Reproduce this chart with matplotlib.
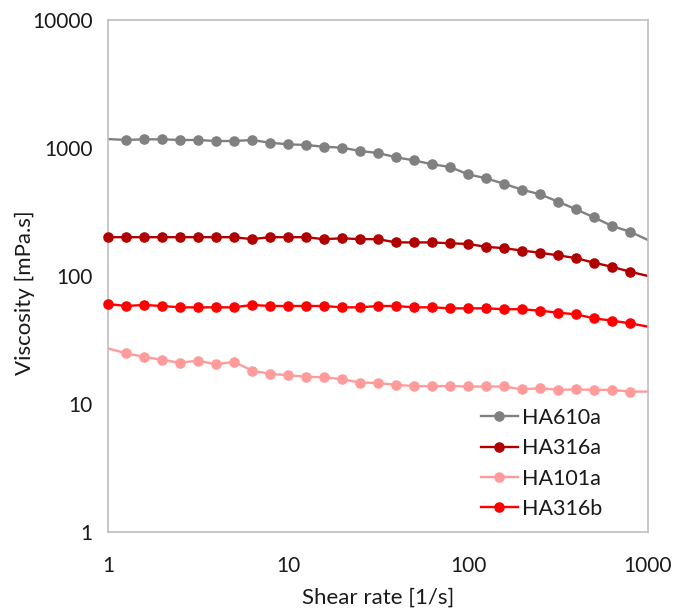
import matplotlib
matplotlib.use("Agg")
import matplotlib.pyplot as plt
from matplotlib.lines import Line2D
from matplotlib.ticker import FixedLocator, NullLocator, FixedFormatter
import numpy as np

plt.rcParams['font.family'] = ['Lato', 'DejaVu Sans']

# Shear rate (1/s), ten steps per decade
shear_rate = [1, 1.26, 1.58, 2.0, 2.51, 3.16, 3.98, 5.01, 6.31, 7.94,
              10, 12.6, 15.8, 20, 25.1, 31.6, 39.8, 50.1, 63.1, 79.4,
              100, 126, 158, 200, 251, 316, 398, 501, 631, 794, 1000]

# Viscosity (mPa.s)
ha610a = [1175, 1155, 1169, 1169, 1155, 1155, 1134, 1134, 1155, 1099,
          1069, 1055, 1024, 1005, 948, 914, 846, 801, 746, 711,
          623, 580, 526, 472, 435, 381, 332, 287, 246, 222, 191]
ha316a = [201, 201, 201, 201, 201, 201, 201, 201, 194, 201,
          201, 201, 194, 197, 194, 194, 183, 183, 183, 180,
          178, 169, 165, 158, 152, 145, 138, 127, 118, 108, 100]
ha101a = [27.2, 24.9, 23.4, 22.1, 21.0, 21.8, 20.4, 21.4, 18.2, 17.2,
          16.8, 16.3, 16.2, 15.6, 14.7, 14.6, 14.1, 13.8, 13.8, 13.8,
          13.7, 13.7, 13.7, 13.0, 13.3, 12.9, 13.0, 12.9, 12.9, 12.5, 12.5]
ha316b = [60.4, 58.3, 59.4, 58.3, 56.9, 56.9, 56.9, 56.9, 59.4, 58.3,
          58.3, 58.3, 58.3, 56.9, 56.9, 58.3, 58.3, 56.9, 56.9, 55.9,
          55.9, 55.9, 55.0, 55.0, 53.6, 51.7, 50.2, 46.7, 44.8, 42.7, 40.2]

series_names = ["HA610a", "HA316a", "HA101a", "HA316b"]
series_values = [ha610a, ha316a, ha101a, ha316b]
series_colors = ["#808080", "#B00000", "#FF9B9B", "#FF0000"]
first_marker = [1, 0, 1, 0]

x_ticks = [1, 10, 100, 1000]
x_tick_labels = ["1", "10", "100", "1000"]
y_ticks = [1, 10, 100, 1000, 10000]
y_tick_labels = ["1", "10", "100", "1000", "10000"]

W, H = 676, 610
fig = plt.figure(figsize=(W / 100, H / 100), dpi=100)
ax = fig.add_axes([108 / W, 1 - 532 / H, 540 / W, 512 / H])

x = np.array(shear_rate)
handles = []
for name, vals, col, m0 in zip(series_names, series_values, series_colors, first_marker):
    y = np.array(vals)
    ax.plot(x, y, '-', color=col, lw=1.7, zorder=2)
    ax.plot(x[m0:30], y[m0:30], 'o', color=col, ms=6.6, mec=col,
            clip_on=False, zorder=3)
    handles.append(Line2D([0], [0], color=col, lw=1.7, marker='o', ms=6.6))

ax.set_xscale('log')
ax.set_yscale('log')
ax.set_xlim(1, 1000)
ax.set_ylim(1, 10000)

ax.xaxis.set_major_locator(FixedLocator(x_ticks))
ax.xaxis.set_major_formatter(FixedFormatter(x_tick_labels))
ax.xaxis.set_minor_locator(NullLocator())
ax.yaxis.set_major_locator(FixedLocator(y_ticks))
ax.yaxis.set_major_formatter(FixedFormatter(y_tick_labels))
ax.yaxis.set_minor_locator(NullLocator())

text_col = '#1a1a1a'
ax.tick_params(axis='both', length=0, labelsize=15, labelcolor=text_col)
ax.tick_params(axis='x', pad=17)
ax.tick_params(axis='y', pad=11)

for s in ax.spines.values():
    s.set_color('#BFBFBF')
    s.set_linewidth(1.2)

ax.set_xlabel("Shear rate [1/s]", fontsize=16, color=text_col, labelpad=9)
ax.set_ylabel("Viscosity [mPa.s]", fontsize=16, color=text_col)
ax.yaxis.set_label_coords(-0.135, 0.467)

ax.legend(handles, series_names, loc='upper left', frameon=False,
          fontsize=15.5, handlelength=1.7, handletextpad=0.2,
          labelspacing=0.48, borderpad=0, borderaxespad=0,
          bbox_to_anchor=(481 / W, 1 - 408 / H),
          bbox_transform=fig.transFigure, labelcolor=text_col)

fig.savefig("out.png", dpi=100)
